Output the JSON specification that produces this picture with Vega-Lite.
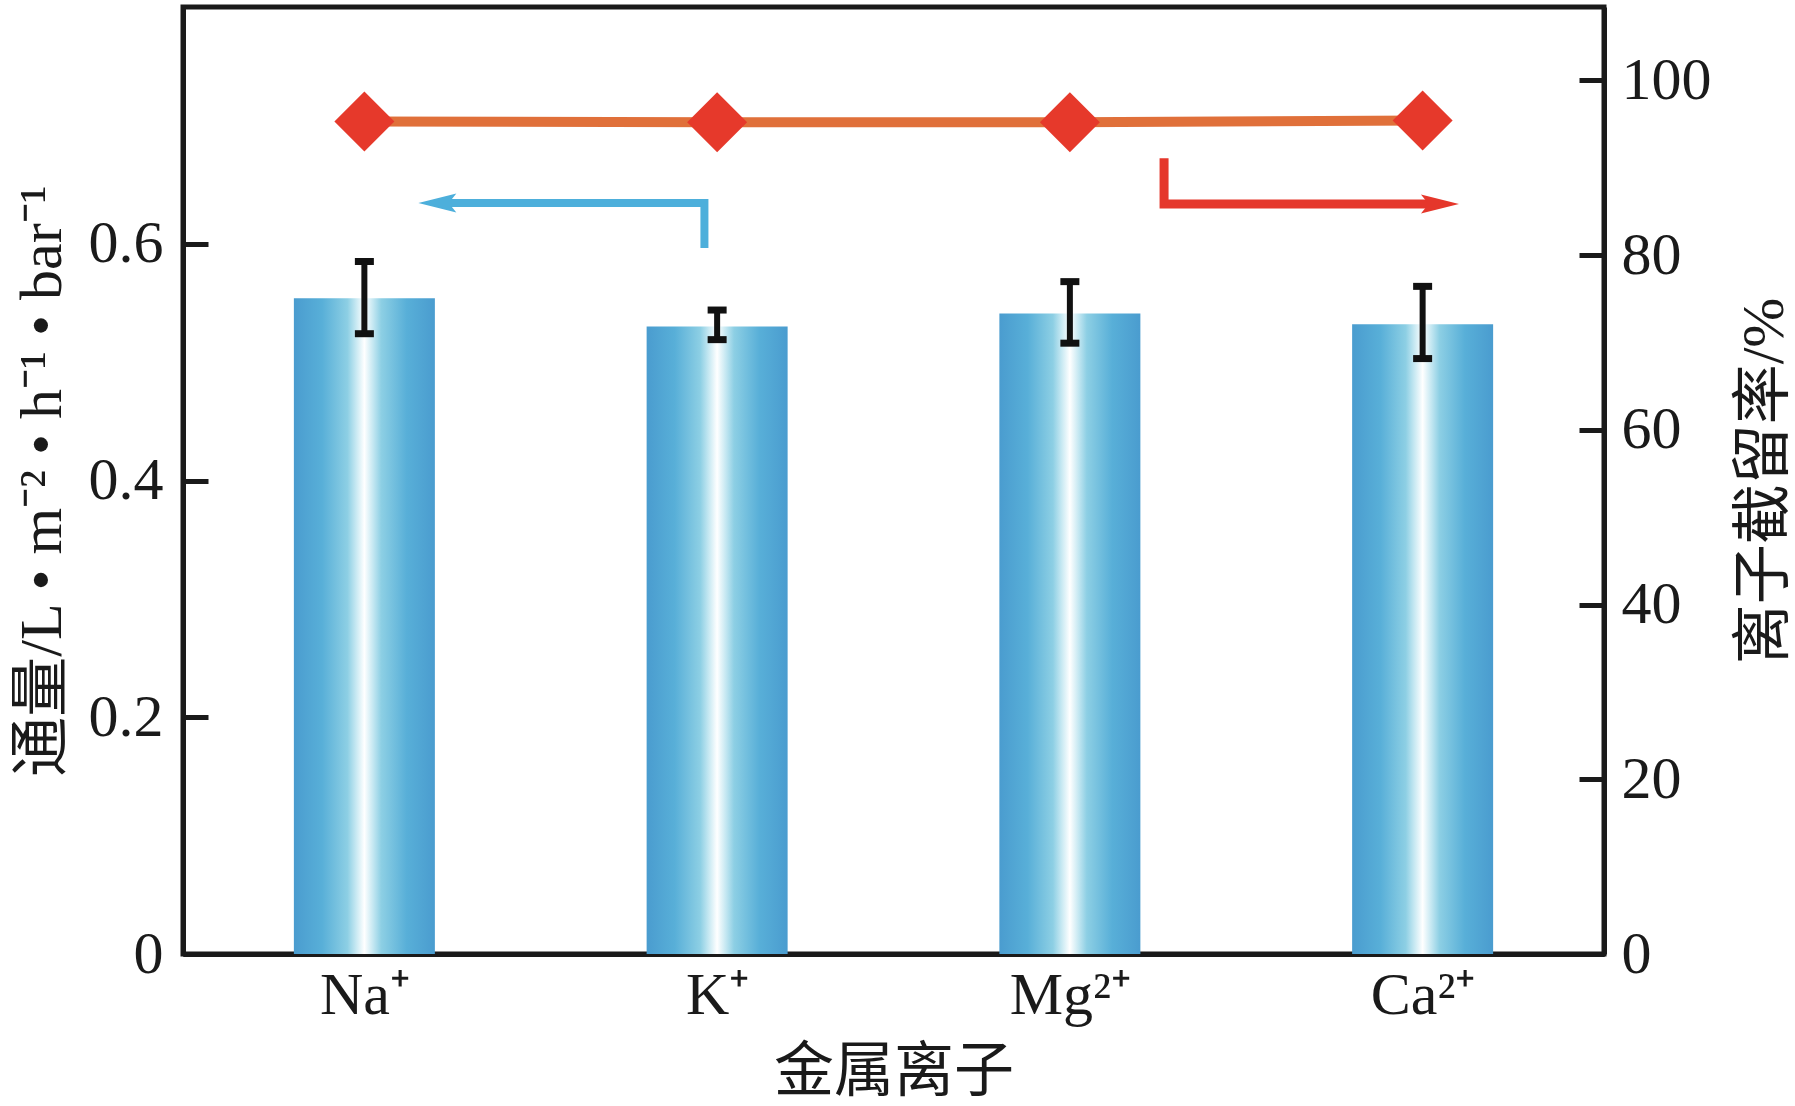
{
  "$schema": "https://vega.github.io/schema/vega-lite/v6.json",
  "width": 1421,
  "height": 947,
  "autosize": {"type": "none"},
  "padding": {"left": 183, "top": 7, "right": 191, "bottom": 152},
  "background": "white",
  "datasets": {
    "ions": [
      {"ion": "Na⁺", "idx": 0, "flux": 0.554, "flux_lo": 0.524, "flux_hi": 0.585, "rejection": 95.3},
      {"ion": "K⁺", "idx": 1, "flux": 0.530, "flux_lo": 0.519, "flux_hi": 0.544, "rejection": 95.2},
      {"ion": "Mg²⁺", "idx": 2, "flux": 0.541, "flux_lo": 0.516, "flux_hi": 0.568, "rejection": 95.2},
      {"ion": "Ca²⁺", "idx": 3, "flux": 0.532, "flux_lo": 0.503, "flux_hi": 0.564, "rejection": 95.4}
    ],
    "flux_arrow": [
      {"step": 1, "x": 0.964, "y": 0.5964},
      {"step": 2, "x": 0.964, "y": 0.6344},
      {"step": 3, "x": 0.226, "y": 0.6344}
    ],
    "flux_tip": [{"x": 0.153, "y": 0.6344}],
    "rej_arrow": [
      {"step": 1, "x": 2.267, "y": 91.1},
      {"step": 2, "x": 2.267, "y": 85.85},
      {"step": 3, "x": 3.03, "y": 85.85}
    ],
    "rej_tip": [{"x": 3.103, "y": 85.85}]
  },
  "config": {
    "view": {"stroke": "#1a1a1a", "strokeWidth": 5},
    "axis": {
      "grid": false,
      "zindex": 1,
      "domainColor": "#1a1a1a",
      "domainWidth": 5,
      "tickColor": "#1a1a1a",
      "tickWidth": 5,
      "tickSize": -25,
      "labelFont": "Liberation Serif",
      "labelFontSize": 60,
      "labelColor": "#1a1a1a",
      "titleFont": "'Liberation Serif', 'Noto Sans CJK SC'",
      "titleFontSize": 60,
      "titleFontWeight": "normal",
      "titleColor": "#1a1a1a"
    }
  },
  "layer": [
    {
      "layer": [
        {
          "data": {"name": "ions"},
          "mark": {
            "type": "bar",
            "size": 141,
            "fill": {
              "gradient": "linear",
              "x1": 0, "y1": 0, "x2": 1, "y2": 0,
              "stops": [
                {"offset": 0, "color": "#4a9ccf"},
                {"offset": 0.2, "color": "#58afd8"},
                {"offset": 0.38, "color": "#8dcfe4"},
                {"offset": 0.44, "color": "#c6e8f2"},
                {"offset": 0.5, "color": "#ffffff"},
                {"offset": 0.56, "color": "#c6e8f2"},
                {"offset": 0.62, "color": "#8dcfe4"},
                {"offset": 0.8, "color": "#58afd8"},
                {"offset": 1, "color": "#4a9ccf"}
              ]
            }
          },
          "encoding": {
            "x": {
              "field": "idx", "type": "quantitative",
              "scale": {"domain": [-0.5, 3.5], "nice": false, "zero": false},
              "title": "金属离子",
              "axis": {
                "values": [0, 1, 2, 3],
                "labelExpr": "['Na⁺','K⁺','Mg²⁺','Ca²⁺'][datum.value]",
                "tickWidth": 3,
                "labelPadding": 37,
                "titlePadding": 18,
                "labelFlush": false
              }
            },
            "y": {
              "field": "flux", "type": "quantitative",
              "scale": {"domain": [0, 0.8], "nice": false},
              "title": "通量/L • m⁻² • h⁻¹ • bar⁻¹",
              "axis": {
                "values": [0, 0.2, 0.4, 0.6],
                "format": ".1~f",
                "labelPadding": 45,
                "titlePadding": 15
              }
            }
          }
        },
        {
          "data": {"name": "ions"},
          "mark": {
            "type": "errorbar",
            "color": "#111111",
            "ticks": {"size": 19, "thickness": 7, "color": "#111111", "opacity": 1},
            "rule": {"strokeWidth": 6, "color": "#111111", "opacity": 1}
          },
          "encoding": {
            "x": {"field": "idx", "type": "quantitative", "title": "金属离子"},
            "y": {"field": "flux_lo", "type": "quantitative", "title": "通量/L • m⁻² • h⁻¹ • bar⁻¹"},
            "y2": {"field": "flux_hi"}
          }
        },
        {
          "data": {"name": "flux_arrow"},
          "mark": {"type": "line", "color": "#4dafdb", "strokeWidth": 8, "strokeCap": "butt", "strokeJoin": "miter"},
          "encoding": {
            "x": {"field": "x", "type": "quantitative", "title": "金属离子"},
            "y": {"field": "y", "type": "quantitative", "title": "通量/L • m⁻² • h⁻¹ • bar⁻¹"},
            "order": {"field": "step"}
          }
        },
        {
          "data": {"name": "flux_tip"},
          "mark": {"type": "point", "shape": "M0,0L2,-0.5L1.6,0L2,0.5Z", "size": 1444, "filled": true, "color": "#4dafdb", "opacity": 1, "strokeWidth": 0},
          "encoding": {
            "x": {"field": "x", "type": "quantitative", "title": "金属离子"},
            "y": {"field": "y", "type": "quantitative", "title": "通量/L • m⁻² • h⁻¹ • bar⁻¹"}
          }
        }
      ]
    },
    {
      "layer": [
        {
          "data": {"name": "rej_arrow"},
          "mark": {"type": "line", "color": "#e5372b", "strokeWidth": 9, "strokeCap": "butt", "strokeJoin": "miter"},
          "encoding": {
            "x": {"field": "x", "type": "quantitative", "title": "金属离子"},
            "y": {
              "field": "y", "type": "quantitative",
              "scale": {"domain": [0, 108.4], "nice": false},
              "title": "离子截留率/%",
              "axis": {
                "orient": "right",
                "values": [0, 20, 40, 60, 80, 100],
                "labelPadding": 42,
                "titleAngle": -90,
                "titleBaseline": "top",
                "titlePadding": 24
              }
            },
            "order": {"field": "step"}
          }
        },
        {
          "data": {"name": "rej_tip"},
          "mark": {"type": "point", "shape": "M0,0L-2,-0.5L-1.6,0L-2,0.5Z", "size": 1444, "filled": true, "color": "#e5372b", "opacity": 1, "strokeWidth": 0},
          "encoding": {
            "x": {"field": "x", "type": "quantitative", "title": "金属离子"},
            "y": {"field": "y", "type": "quantitative", "title": "离子截留率/%"}
          }
        },
        {
          "data": {"name": "ions"},
          "mark": {"type": "line", "color": "#e0703a", "strokeWidth": 10},
          "encoding": {
            "x": {"field": "idx", "type": "quantitative", "title": "金属离子"},
            "y": {"field": "rejection", "type": "quantitative", "title": "离子截留率/%"}
          }
        },
        {
          "data": {"name": "ions"},
          "mark": {"type": "point", "shape": "diamond", "size": 3600, "filled": true, "color": "#e6392b", "opacity": 1},
          "encoding": {
            "x": {"field": "idx", "type": "quantitative", "title": "金属离子"},
            "y": {"field": "rejection", "type": "quantitative", "title": "离子截留率/%"}
          }
        }
      ]
    }
  ],
  "resolve": {"scale": {"y": "independent"}}
}
